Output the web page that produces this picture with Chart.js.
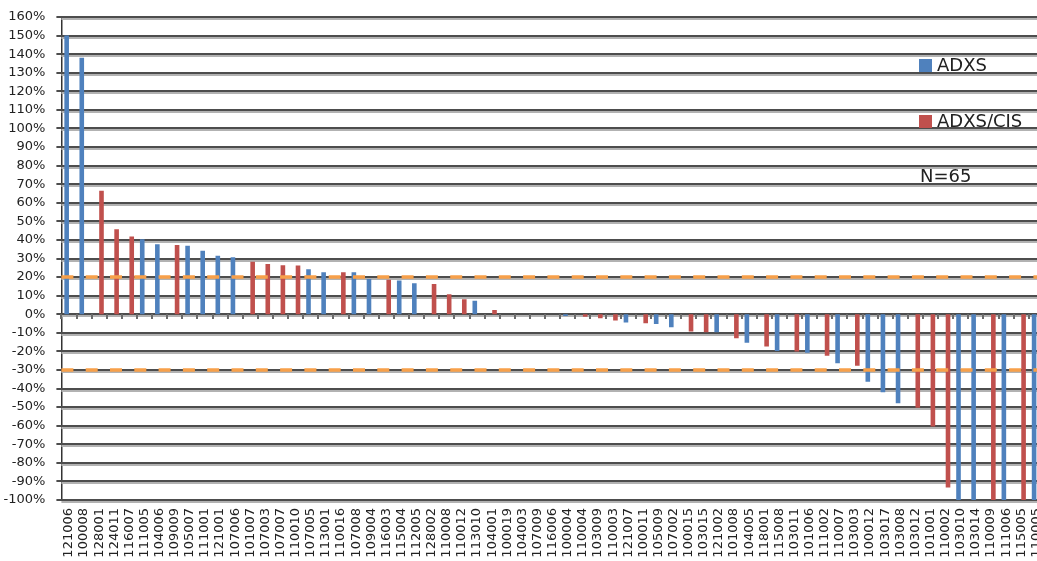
<!DOCTYPE html>
<html>
<head>
<meta charset="utf-8">
<script src="https://cdn.jsdelivr.net/npm/chart.js@4.4.1/dist/chart.umd.min.js"></script>
<style>
  html, body { margin: 0; padding: 0; background: #fff; overflow: hidden; }
  #wrap { position: relative; width: 1060px; height: 561px; }
  .key { position: absolute; font: 18px "DejaVu Sans", sans-serif; color: #222; line-height: 1; white-space: nowrap; }
  .key i { display: inline-block; width: 13px; height: 13px; margin-right: 5px; vertical-align: -1px; }
</style>
</head>
<body>
<div id="wrap">
  <canvas id="chart" width="1060" height="561"></canvas>
</div>
<script>
// Per-patient change in tumour size, sorted high to low.
// Each category carries one bar, either ADXS (blue) or ADXS/CIS (red).

const patients = [
  '121006', '100008', '128001', '124011', '116007', '111005', '104006', '109009', '105007', '111001',
  '121001', '107006', '101007', '107003', '107007', '110010', '107005', '113001', '110016', '107008',
  '109004', '116003', '115004', '112005', '128002', '110008', '110012', '113010', '104001', '100019',
  '104003', '107009', '116006', '100004', '110004', '103009', '110003', '121007', '100011', '105009',
  '107002', '100015', '103015', '121002', '101008', '104005', '118001', '115008', '103011', '101006',
  '111002', '110007', '103003', '100012', '103017', '103008', '103012', '101001', '110002', '103010',
  '103014', '110009', '111006', '115005', '110005'
];

const adxs = [
  150, 138, null, null, null, 40.4, 37.7, null, 36.9, 34.2,
  31.5, 30.7, null, null, null, null, 24.2, 22.6, null, 22.6,
  19, null, 18.1, 16.7, null, null, null, 7.2, null, null,
  null, null, null, -0.9, null, null, null, -4.5, null, -5.2,
  -7, null, null, -9.7, null, -15.3, null, -19.8, null, -20.7,
  null, -26.4, null, -36.3, -42, -47.9, null, null, null, -100,
  -100, null, -100, null, -100
];

const adxsCis = [
  null, null, 66.5, 45.7, 41.8, null, null, 37.3, null, null,
  null, null, 28.3, 27.1, 26.4, 26.2, null, null, 22.6, null,
  null, 18.5, null, null, 16.3, 10.8, 8.1, null, 2.3, null,
  null, null, null, null, -1.3, -2.2, -3.4, null, -4.9, null,
  null, -9.3, -9.7, null, -12.9, null, -17.4, null, -20, null,
  -22.4, null, -27.8, null, null, null, -50.3, -60.5, -93.3, null,
  null, -100, null, -100, null
];

const seriesNames = ['ADXS', 'ADXS/CIS'];
const seriesColors = ['#4F81BD', '#C0504D'];
const thresholds = [20, -30];
const noteText = 'N=65';

const yMin = -100;
const yMax = 160;
const yStep = 10;

const axisFont = { family: '"DejaVu Sans", sans-serif', size: 13 };

// Excel-ish gridlines (dark line, lighter shadow under it, tick left of the axis),
// painted under the bars
const gridLines = {
  id: 'gridLines',
  beforeDatasetsDraw(chart) {
    const { ctx, chartArea, scales } = chart;
    const left = chartArea.left;
    const w = chartArea.right - left;
    ctx.save();
    for (let v = yMin; v <= yMax; v += yStep) {
      const y = Math.round(scales.y.getPixelForValue(v));
      ctx.fillStyle = '#b2b2b2';
      ctx.fillRect(left, y + 1, w, 2);
      ctx.fillStyle = '#4d4d4d';
      ctx.fillRect(left - 5, y - 1, w + 5, 2);
    }
    ctx.restore();
  }
};

// orange dashed response thresholds, drawn over the bars
const thresholdLines = {
  id: 'thresholdLines',
  afterDatasetsDraw(chart) {
    const { ctx, chartArea, scales } = chart;
    ctx.save();
    ctx.strokeStyle = '#F7A04A';
    ctx.lineWidth = 3.5;
    ctx.setLineDash([12, 12.3]);
    thresholds.forEach(t => {
      const y = scales.y.getPixelForValue(t);
      ctx.beginPath();
      ctx.moveTo(chartArea.left, y);
      ctx.lineTo(chartArea.right, y);
      ctx.stroke();
    });
    ctx.restore();
  }
};

// small category ticks hanging under the 0% line
const zeroTicks = {
  id: 'zeroTicks',
  afterDatasetsDraw(chart) {
    const { ctx, scales } = chart;
    const x = scales.x;
    const y0 = Math.round(scales.y.getPixelForValue(0));
    const half = (x.getPixelForTick(1) - x.getPixelForTick(0)) / 2;
    ctx.save();
    ctx.fillStyle = '#6a6a6a';
    for (let i = 0; i <= patients.length; i++) {
      const px = Math.round(x.getPixelForValue(i) - half);
      ctx.fillRect(px - 1, y0, 2, 5);
    }
    ctx.restore();
  }
};

new Chart(document.getElementById('chart'), {
  type: 'bar',
  data: {
    labels: patients,
    datasets: [
      { label: seriesNames[0], data: adxs, backgroundColor: seriesColors[0] },
      { label: seriesNames[1], data: adxsCis, backgroundColor: seriesColors[1] }
    ]
  },
  options: {
    responsive: false,
    animation: false,
    categoryPercentage: 0.61,
    barPercentage: 1.0,
    layout: { padding: { top: 17, right: 0, left: 0, bottom: 0 } },
    plugins: {
      legend: { display: false },
      tooltip: { enabled: false }
    },
    scales: {
      x: {
        grid: { display: false, drawTicks: false },
        border: { display: false },
        ticks: {
          autoSkip: false,
          minRotation: 90,
          maxRotation: 90,
          padding: 8,
          color: '#222',
          font: axisFont
        },
        afterFit: s => { s.height = 61; }
      },
      y: {
        min: yMin,
        max: yMax,
        grid: { display: false },
        border: { color: '#333', width: 1.5 },
        ticks: {
          stepSize: yStep,
          autoSkip: false,
          padding: 8,
          color: '#222',
          font: axisFont,
          callback: v => v + '%'
        },
        afterFit: s => { s.width = 61.4; }
      }
    }
  },
  plugins: [gridLines, thresholdLines, zeroTicks]
});

// legend sits inside the plot area, gridlines showing through
const wrap = document.getElementById('wrap');
const keyTops = [56, 112];
seriesNames.forEach((name, i) => {
  const d = document.createElement('div');
  d.className = 'key';
  d.style.left = '919px';
  d.style.top = keyTops[i] + 'px';
  d.innerHTML = '<i style="background:' + seriesColors[i] + '"></i>' + name;
  wrap.appendChild(d);
});
const note = document.createElement('div');
note.className = 'key';
note.style.left = '920px';
note.style.top = '167px';
note.textContent = noteText;
wrap.appendChild(note);
</script>
</body>
</html>
